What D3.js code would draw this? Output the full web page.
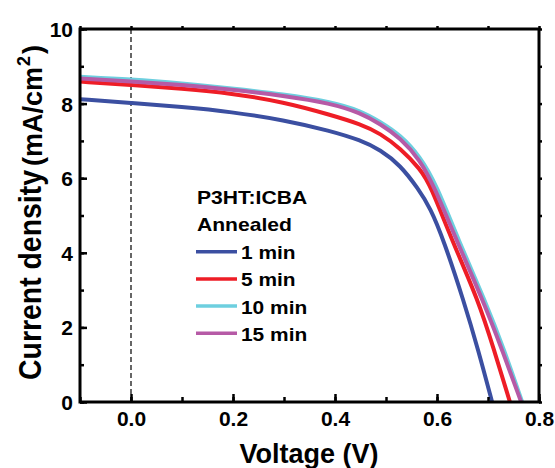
<!DOCTYPE html>
<html><head><meta charset="utf-8">
<script src="https://cdn.jsdelivr.net/npm/d3@7"></script>
<style>body{margin:0;background:#fff}svg{display:block}text{font-family:Arial,"Liberation Sans",sans-serif;font-weight:bold}</style>
</head><body><svg id="c" width="555" height="468"></svg>
<script>
// Data
const seriesNames = ["1 min", "5 min", "10 min", "15 min"];
const seriesColors = ["#3b4fa1", "#ee1d26", "#6dcfdf", "#b65aa6"];
const v1 = [-0.1, 0, 0.1, 0.196, 0.3, 0.391, 0.45, 0.489, 0.528, 0.563, 0.587, 0.613, 0.652, 0.681, 0.708];
const j1 = [8.12, 8.02, 7.91, 7.78, 7.56, 7.27, 7.02, 6.76, 6.35, 5.72, 5.2, 4.34, 2.73, 1.39, 0];
const v5 = [-0.1, 0, 0.1, 0.196, 0.3, 0.391, 0.45, 0.489, 0.528, 0.567, 0.587, 0.629, 0.681, 0.712, 0.743];
const j5 = [8.59, 8.5, 8.4, 8.28, 8.04, 7.7, 7.45, 7.2, 6.8, 6.25, 5.82, 4.34, 2.73, 1.39, 0];
const v10 = [-0.1, 0, 0.1, 0.196, 0.3, 0.391, 0.45, 0.489, 0.528, 0.567, 0.599, 0.642, 0.694, 0.732, 0.767];
const j10 = [8.72, 8.65, 8.54, 8.41, 8.25, 8.05, 7.81, 7.51, 7.16, 6.58, 5.82, 4.34, 2.73, 1.39, 0];
const v15 = [-0.1, 0, 0.1, 0.196, 0.3, 0.391, 0.45, 0.489, 0.528, 0.567, 0.595, 0.638, 0.69, 0.728, 0.765];
const j15 = [8.67, 8.6, 8.5, 8.38, 8.21, 8.01, 7.75, 7.45, 7.08, 6.49, 5.76, 4.34, 2.73, 1.39, 0];
const xTicks = [0.0, 0.2, 0.4, 0.6, 0.8];
const yTicks = [0, 2, 4, 6, 8, 10];
const legendTitle = ["P3HT:ICBA", "Annealed"];

const seriesV = [v1, v5, v10, v15];
const seriesJ = [j1, j5, j10, j15];

const svg = d3.select("#c");
const L = 80, R = 539, T = 29, B = 402;
const x = d3.scaleLinear().domain([-0.1, 0.8]).range([L, R]);
const y = d3.scaleLinear().domain([0, 10]).range([B, T]);

// dashed zero line
svg.append("line").attr("x1", x(0)).attr("x2", x(0)).attr("y1", T).attr("y2", B)
  .attr("stroke", "#000").attr("stroke-width", 1.2).attr("stroke-dasharray", "5,3");

// curves
const line = d3.line().x(d => x(d[0])).y(d => y(d[1])).curve(d3.curveBasis);
svg.append("clipPath").attr("id", "cp").append("rect")
  .attr("x", L).attr("y", T).attr("width", R - L).attr("height", B - T);
[0, 1, 2, 3].forEach(i => {
  const pts = seriesV[i].map((v, k) => [v, seriesJ[i][k]]);
  svg.append("path").attr("d", line(pts)).attr("fill", "none")
    .attr("stroke", seriesColors[i]).attr("stroke-width", 4).attr("clip-path", "url(#cp)");
});

// axes
const minorX = d3.range(-0.1, 0.81, 0.1).map(v => +v.toFixed(2));
const minorY = d3.range(0, 10.01, 1);
const bx = svg.append("g").attr("transform", `translate(0,${B})`)
  .call(d3.axisBottom(x).tickValues(minorX).tickSize(-5).tickFormat(""));
const bx2 = svg.append("g").attr("transform", `translate(0,${B})`)
  .call(d3.axisBottom(x).tickValues(xTicks).tickSize(-8).tickPadding(9).tickFormat(d3.format(".1f")));
const ly = svg.append("g").attr("transform", `translate(${L},0)`)
  .call(d3.axisLeft(y).tickValues(minorY).tickSize(-4).tickFormat(""));
const ly2 = svg.append("g").attr("transform", `translate(${L},0)`)
  .call(d3.axisLeft(y).tickValues(yTicks).tickSize(-7).tickPadding(7).tickFormat(d3.format("d")));
const tx = svg.append("g").attr("transform", `translate(0,${T})`)
  .call(d3.axisTop(x).tickValues(minorX).tickSize(3).tickFormat(""));
const ry = svg.append("g").attr("transform", `translate(${R},0)`)
  .call(d3.axisRight(y).tickValues(minorY).tickSize(3).tickFormat(""));
[bx, bx2, ly, ly2, tx, ry].forEach(g => {
  g.select(".domain").remove();
  g.selectAll(".tick line").attr("stroke", "#000").attr("stroke-width", 2.5);
  g.selectAll("text").attr("fill", "#000").style("font-size", "21px").style("font-family", "Arial, 'Liberation Sans', sans-serif").style("font-weight", "bold");
});
ly2.selectAll("text").attr("dy", "0.36em");
svg.append("rect").attr("x", L).attr("y", T).attr("width", R - L).attr("height", B - T)
  .attr("fill", "none").attr("stroke", "#000").attr("stroke-width", 3);

// axis titles
svg.append("text").attr("x", 309).attr("y", 463).attr("text-anchor", "middle")
  .style("font-size", "27px").text("Voltage (V)");
svg.append("text").attr("transform", "translate(41,380) rotate(-90)")
  .style("font-size", "31px").attr("textLength", 210).attr("lengthAdjust", "spacingAndGlyphs")
  .text("Current density");
const yt = svg.append("text").attr("transform", "translate(42,166) rotate(-90)");
yt.append("tspan").style("font-size", "27px").text("(mA/cm");
yt.append("tspan").style("font-size", "18px").attr("dy", "-12").attr("dx", "1").text("2");
yt.append("tspan").style("font-size", "27px").attr("dy", "12").attr("dx", "2").text(")");

// legend
function stretch(t, f) { const n = t.node(); t.attr("textLength", n.getComputedTextLength() * f).attr("lengthAdjust", "spacingAndGlyphs"); }
legendTitle.forEach((t, i) => {
  const tt = svg.append("text").attr("x", 197).attr("y", 203.5 + i * 27.3).style("font-size", "19px").text(t);
  stretch(tt, 1.11);
});
seriesNames.forEach((n, i) => {
  const yy = 251.7 + i * 27.2;
  svg.append("line").attr("x1", 196).attr("x2", 237).attr("y1", yy).attr("y2", yy)
    .attr("stroke", seriesColors[i]).attr("stroke-width", 3.5);
  const tt = svg.append("text").attr("x", 241).attr("y", yy + 7.5).style("font-size", "19px").text(n);
  stretch(tt, 1.1);
});
</script></body></html>
